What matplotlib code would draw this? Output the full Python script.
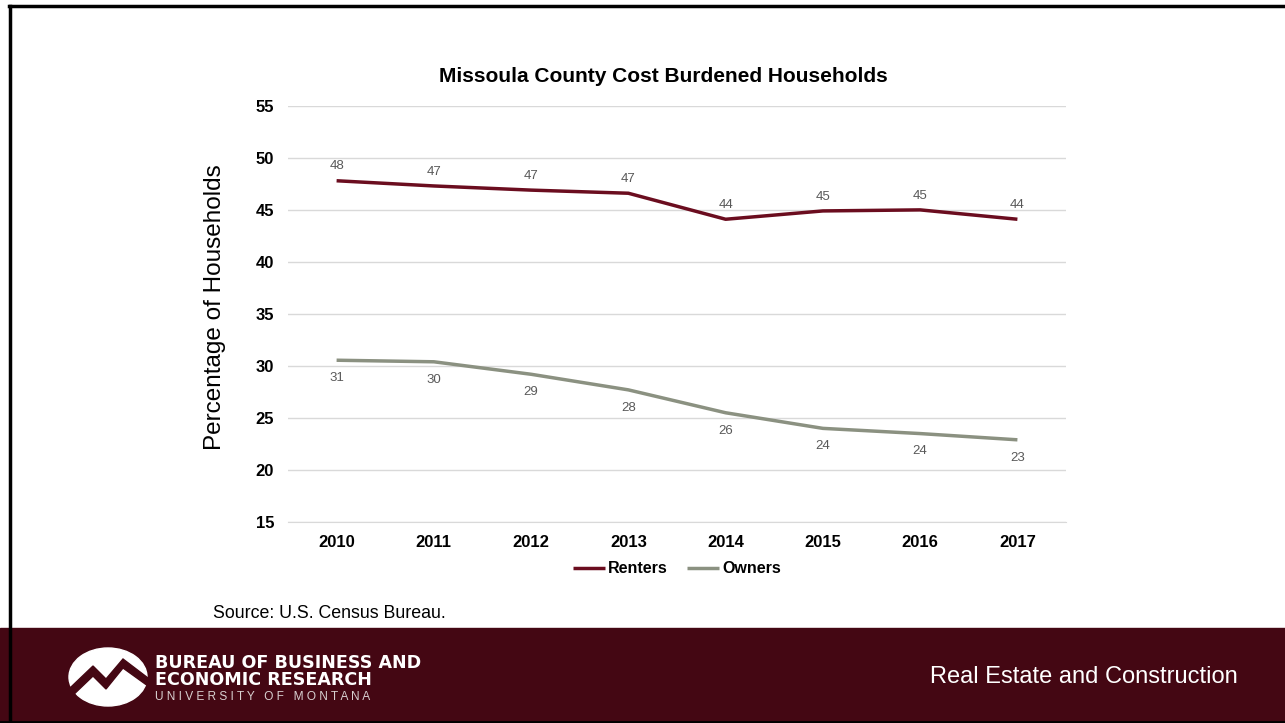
import matplotlib
matplotlib.use("Agg")
import matplotlib.pyplot as plt
from matplotlib.patches import Ellipse, Rectangle, Polygon
from matplotlib.lines import Line2D

plt.rcParams['font.family'] = ['Liberation Sans', 'DejaVu Sans']

years = ['2010', '2011', '2012', '2013', '2014', '2015', '2016', '2017']
renters = [47.8, 47.3, 46.9, 46.6, 44.1, 44.9, 45.0, 44.1]
owners = [30.55, 30.4, 29.2, 27.7, 25.5, 24.0, 23.5, 22.9]

renter_col = '#6b0d1f'
owner_col = '#8b9181'
band_col = '#440713'

fig = plt.figure(figsize=(12.85, 7.23), dpi=100)

# footer band (drawn underneath everything)
fig.add_artist(Rectangle((0, 0), 1, 1 - 628 / 723, transform=fig.transFigure,
                         color=band_col, zorder=-5))

ax = fig.add_axes([0.2241, 0.278, 0.6055, 0.5756])

x = range(len(years))
ax.plot(x, renters, color=renter_col, lw=2.5, label='Renters', solid_capstyle='butt')
ax.plot(x, owners, color=owner_col, lw=2.5, label='Owners', solid_capstyle='butt')

for i, v in enumerate(renters):
    ax.annotate(f'{round(v):.0f}', (i, v), xytext=(0, 6), textcoords='offset points',
                ha='center', va='bottom', fontsize=9.5, color='#595959')
for i, v in enumerate(owners):
    ax.annotate(f'{v + 0.01:.0f}', (i, v), xytext=(0, -8.5), textcoords='offset points',
                ha='center', va='top', fontsize=9.5, color='#595959')

ax.set_xlim(-0.5, len(years) - 0.5)
ax.set_ylim(15, 55)
ax.set_yticks(range(15, 56, 5))
ax.set_xticks(list(x))
ax.set_xticklabels(years)
ax.grid(axis='y', color='#d9d9d9', lw=1)
ax.set_axisbelow(True)
for s in ['top', 'right', 'left']:
    ax.spines[s].set_visible(False)
ax.spines['bottom'].set_color('#d9d9d9')
ax.tick_params(axis='both', length=0, labelsize=12)
ax.tick_params(axis='x', pad=9)
ax.tick_params(axis='y', pad=10)
for lab in ax.get_xticklabels() + ax.get_yticklabels():
    lab.set_fontweight('bold')

fig.text(663 / 1285, 1 - 76 / 723, 'Missoula County Cost Burdened Households',
         fontsize=15, fontweight='bold', ha='center', va='center')
fig.text(215 / 1285, 1 - 307 / 723, 'Percentage of Households', fontsize=17.5,
         rotation=90, ha='center', va='center')

ax.legend(loc='upper center', bbox_to_anchor=(0.5, -0.06), ncol=2, frameon=False,
          prop={'weight': 'bold', 'size': 11.5}, handlelength=2.0, handletextpad=0.2,
          columnspacing=1.2)

fig.text(213 / 1285, 1 - 613 / 723, 'Source: U.S. Census Bureau.', fontsize=12.8,
         va='center', ha='left')

# border
fig.add_artist(Line2D([9 / 1285, 1], [1 - 5.5 / 723, 1 - 5.5 / 723], color='black', lw=2.5,
                      transform=fig.transFigure))
fig.add_artist(Line2D([10 / 1285, 10 / 1285], [0, 1 - 5.5 / 723], color='black', lw=2.5,
                      transform=fig.transFigure))
fig.add_artist(Line2D([0, 1], [1 / 723, 1 / 723], color='black', lw=2,
                      transform=fig.transFigure))

# logo and footer text
lax = fig.add_axes([0, 0, 1, 1 - 628 / 723])
lax.set_xlim(0, 1285)
lax.set_ylim(723, 628)
lax.axis('off')
lax.add_patch(Ellipse((108, 677), 78, 58, color='white'))
lax.add_patch(Polygon([(70, 688), (93, 666), (106, 679), (123, 659), (148, 678),
                       (148, 686), (123, 668), (106, 689), (93, 676), (70, 698)],
                      closed=True, color=band_col))
lax.text(155, 663, 'BUREAU OF BUSINESS AND', color='white', fontsize=12.6,
         fontweight='heavy', va='center', ha='left', family='DejaVu Sans')
lax.text(155, 680, 'ECONOMIC RESEARCH', color='white', fontsize=12.6,
         fontweight='heavy', va='center', ha='left', family='DejaVu Sans')
lax.text(155, 697, 'U N I V E R S I T Y   O F   M O N T A N A', color='#d8d0d0',
         fontsize=8.6, va='center', ha='left')
lax.text(1238, 677, 'Real Estate and Construction', color='white', fontsize=17,
         va='center', ha='right')

fig.savefig('out.png', dpi=100)
